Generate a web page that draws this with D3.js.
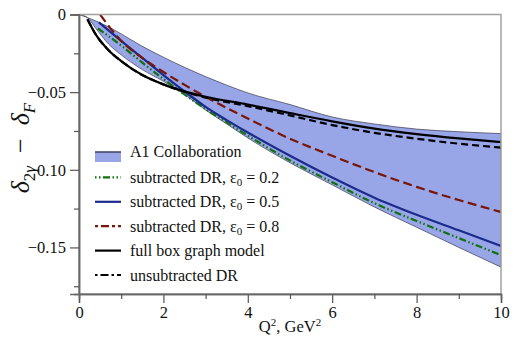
<!DOCTYPE html>
<html>
<head>
<meta charset="utf-8">
<script src="https://cdn.jsdelivr.net/npm/d3@7"></script>
<style>
  body { margin: 0; background: #fff; }
  svg text { font-family: "Liberation Serif", "DejaVu Serif", serif; }
</style>
</head>
<body>
<div id="chart"></div>
<script>
// values (Q^2 in GeV^2, delta_2gamma - delta_F)
var bandQ     = [0, 0.2, 0.4, 0.7, 1, 1.5, 2, 2.5, 3, 3.5, 4, 5, 6, 7, 8, 9, 10];
var bandUpper = [0, -0.002, -0.0042, -0.008, -0.0125, -0.0205, -0.0275, -0.034, -0.040, -0.0455, -0.0505, -0.058, -0.066, -0.0705, -0.0738, -0.0755, -0.0767];
var bandLower = [0, -0.002, -0.009, -0.019, -0.026, -0.0355, -0.043, -0.0515, -0.0615, -0.0705, -0.0795, -0.0955, -0.1097, -0.124, -0.137, -0.150, -0.1627];

var greenQ = [0.45, 1, 1.5, 2, 2.5, 3, 3.5, 4, 5, 6, 7, 8, 9, 10];
var greenV = [-0.009, -0.020, -0.031, -0.0415, -0.0515, -0.061, -0.0695, -0.078, -0.094, -0.108, -0.1215, -0.133, -0.144, -0.155];

var blueQ = [0.47, 1, 1.5, 2, 2.5, 3, 3.5, 4, 5, 6, 7, 8, 9, 10];
var blueV = [-0.005, -0.017, -0.028, -0.039, -0.0495, -0.0595, -0.068, -0.076, -0.091, -0.105, -0.118, -0.129, -0.139, -0.149];

var redQ = [0.5, 1, 1.5, 2, 3, 4, 5, 6, 7, 8, 9, 10];
var redV = [0, -0.017, -0.028, -0.037, -0.053, -0.067, -0.080, -0.091, -0.1015, -0.111, -0.1195, -0.1272];

var boxQ = [0.2, 0.4, 0.7, 1, 1.5, 2, 2.5, 3, 4, 5, 6, 7, 8, 9, 10];
var boxV = [-0.003, -0.013, -0.023, -0.030, -0.039, -0.045, -0.0495, -0.053, -0.058, -0.0635, -0.0688, -0.0735, -0.077, -0.0798, -0.0821];

var unsubQ = [0.2, 0.4, 0.7, 1, 1.5, 2, 2.5, 3, 4, 5, 6, 7, 8, 9, 10];
var unsubV = [-0.003, -0.013, -0.023, -0.030, -0.039, -0.045, -0.0497, -0.0535, -0.059, -0.065, -0.0712, -0.0762, -0.080, -0.0832, -0.0857];

var xMajor = [0, 2, 4, 6, 8, 10];
var xMinor = [1, 3, 5, 7, 9];
var yMajor = [0, -0.05, -0.10, -0.15];
var yMinor = [-0.025, -0.075, -0.125, -0.175];

var width = 523, height = 349;
var pLeft = 79, pRight = 501, pTop = 14.5, pBottom = 294;
var serif = '"Liberation Serif", "DejaVu Serif", serif';

var x = d3.scaleLinear().domain([0, 10]).range([pLeft, pRight]);
var y = d3.scaleLinear().domain([-0.18, 0]).range([pBottom, pTop]);

var svg = d3.select('#chart').append('svg')
  .attr('width', width)
  .attr('height', height);

svg.append('clipPath').attr('id', 'plotclip')
  .append('rect')
  .attr('x', pLeft).attr('y', pTop)
  .attr('width', pRight - pLeft).attr('height', pBottom - pTop);

var plot = svg.append('g').attr('clip-path', 'url(#plotclip)');

// A1 band
var band = bandQ.map(function(q, i) { return {q: q, lo: bandLower[i], hi: bandUpper[i]}; });
plot.append('path')
  .datum(band)
  .attr('fill', '#98a6e8')
  .attr('stroke', '#3a3a4a')
  .attr('stroke-width', 0.7)
  .attr('d', d3.area()
    .curve(d3.curveMonotoneX)
    .x(function(d) { return x(d.q); })
    .y0(function(d) { return y(d.lo); })
    .y1(function(d) { return y(d.hi); }));

var line = d3.line()
  .curve(d3.curveMonotoneX)
  .x(function(d) { return x(d[0]); })
  .y(function(d) { return y(d[1]); });

function zip(qs, vs) { return qs.map(function(q, i) { return [q, vs[i]]; }); }

var series = [
  {name: 'green', q: greenQ, v: greenV, color: '#12700f', dash: '7,2.5,1.5,2.5,1.5,2.5'},
  {name: 'blue',  q: blueQ,  v: blueV,  color: '#1c2a8c', dash: null},
  {name: 'red',   q: redQ,   v: redV,   color: '#7a1608', dash: '9,4.5'},
  {name: 'unsub', q: unsubQ, v: unsubV, color: '#000', dash: '7,4'},
  {name: 'box',   q: boxQ,   v: boxV,   color: '#000', dash: null}
];

series.forEach(function(s) {
  plot.append('path')
    .datum(zip(s.q, s.v))
    .attr('fill', 'none')
    .attr('stroke', s.color)
    .attr('stroke-width', 2.2)
    .attr('stroke-dasharray', s.dash)
    .attr('d', line);
});

// frame
svg.append('rect')
  .attr('x', pLeft).attr('y', pTop)
  .attr('width', pRight - pLeft).attr('height', pBottom - pTop)
  .attr('fill', 'none')
  .attr('stroke', '#a0a0a0')
  .attr('stroke-width', 1.5);

// axes
var fmtY = function(d) { return d === 0 ? '0' : '\u2212' + Math.abs(d).toFixed(2); };

svg.append('g').attr('transform', 'translate(0,' + pBottom + ')')
  .call(d3.axisBottom(x).tickValues(xMajor).tickSize(9).tickPadding(3).tickFormat(d3.format('d')));
svg.append('g').attr('transform', 'translate(0,' + pBottom + ')')
  .call(d3.axisBottom(x).tickValues(xMinor).tickSize(5).tickFormat(''));

svg.append('g').attr('transform', 'translate(' + pLeft + ',0)')
  .call(d3.axisLeft(y).tickValues(yMajor).tickSize(9).tickPadding(4).tickFormat(fmtY));
svg.append('g').attr('transform', 'translate(' + pLeft + ',0)')
  .call(d3.axisLeft(y).tickValues(yMinor).tickSize(5).tickFormat(''));

svg.selectAll('.domain').attr('stroke', '#666').attr('stroke-width', 1.5);
svg.selectAll('.tick line').attr('stroke', '#555').attr('stroke-width', 1.2);
svg.selectAll('.tick text')
  .style('font-family', serif)
  .style('font-size', '16.5px')
  .attr('fill', '#111');

// axis titles
var xt = svg.append('text')
  .attr('x', (pLeft + pRight) / 2)
  .attr('y', 332)
  .attr('text-anchor', 'middle')
  .style('font-size', '16.5px')
  .attr('fill', '#111');
xt.append('tspan').text('Q');
xt.append('tspan').style('font-size', '11px').attr('dy', -6).text('2');
xt.append('tspan').attr('dy', 6).text(', GeV');
xt.append('tspan').style('font-size', '11px').attr('dy', -6).text('2');

var yt = svg.append('text')
  .attr('transform', 'translate(29,148) rotate(-90)')
  .attr('text-anchor', 'middle')
  .style('font-size', '26px')
  .attr('fill', '#111');
yt.append('tspan').attr('font-style', 'italic').text('\u03b4');
yt.append('tspan').style('font-size', '17px').attr('dy', 6).text('2');
yt.append('tspan').style('font-size', '17px').attr('font-style', 'italic').text('\u03b3');
yt.append('tspan').attr('dy', -6).text('\u2002\u2212\u2002');
yt.append('tspan').attr('font-style', 'italic').text('\u03b4');
yt.append('tspan').style('font-size', '17px').attr('font-style', 'italic').attr('dy', 6).text('F');

// legend
var legendItems = [
  {label: 'A1 Collaboration', band: true},
  {label: 'subtracted DR, ', eps: '0.2', color: '#12700f', dash: '1.5,2.5,1.5,2.5,7,2.5'},
  {label: 'subtracted DR, ', eps: '0.5', color: '#1c2a8c', dash: null},
  {label: 'subtracted DR, ', eps: '0.8', color: '#7a1608', dash: '3,3,8,3'},
  {label: 'full box graph model', color: '#000', dash: null},
  {label: 'unsubtracted DR', color: '#000', dash: '2.5,3,8,3'}
];
var lx0 = 95, lx1 = 121, ly0 = 153, lstep = 24.4;

legendItems.forEach(function(it, i) {
  var cy = ly0 + i * lstep;
  if (it.band) {
    svg.append('rect')
      .attr('x', lx0).attr('y', cy - 1).attr('width', lx1 - lx0).attr('height', 10)
      .attr('fill', '#98a6e8');
    svg.append('line')
      .attr('x1', lx0).attr('x2', lx1).attr('y1', cy - 1).attr('y2', cy - 1)
      .attr('stroke', '#3a4060').attr('stroke-width', 1.5);
  } else {
    svg.append('line')
      .attr('x1', lx0).attr('x2', lx1).attr('y1', cy).attr('y2', cy)
      .attr('stroke', it.color).attr('stroke-width', 2.2)
      .attr('stroke-dasharray', it.dash);
  }
  var t = svg.append('text')
    .attr('x', 130)
    .attr('y', (it.band ? cy - 2 : cy) + 5.5)
    .style('font-size', '16px')
    .attr('fill', '#111');
  t.append('tspan').text(it.label);
  if (it.eps) {
    t.append('tspan').text('\u03b5');
    t.append('tspan').style('font-size', '11px').attr('dy', 3).text('0');
    t.append('tspan').attr('dy', -3).text(' = ' + it.eps);
  }
});
</script>
</body>
</html>
